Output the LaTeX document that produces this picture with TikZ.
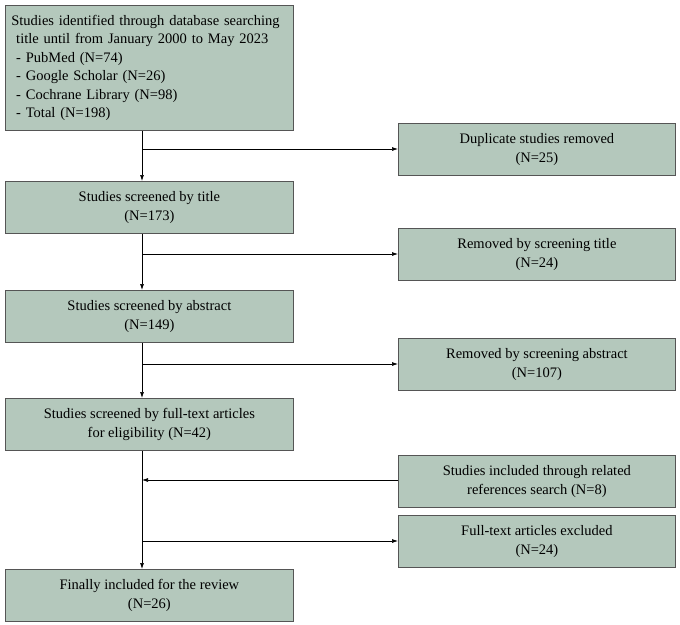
\documentclass[tikz,border=0pt]{standalone}
\usepackage{fontspec}
\setmainfont{Liberation Serif}
\usetikzlibrary{arrows.meta}
\definecolor{boxfill}{HTML}{B4C8BC}
\definecolor{boxline}{HTML}{555555}
\begin{document}
\begin{tikzpicture}[x=1pt,y=-1pt,font=\fontsize{14.5}{18.5}\selectfont,
  box/.style={draw=boxline,fill=boxfill,line width=0.8pt,align=center,anchor=north west,inner sep=2pt},
  arr/.style={-{Latex[length=6pt,width=4pt]},line width=0.7pt},
  ln/.style={line width=0.7pt}]
\useasboundingbox (0,0) rectangle (680,624);
\node[box,align=left,text width=276pt,inner xsep=6pt,minimum height=125pt] (a) at (5,5) {Studies identified through database searching\\ \ title until from January 2000 to May 2023\\ \ - PubMed (N=74)\\ \ - Google Scholar (N=26)\\ \ - Cochrane Library (N=98)\\ \ - Total (N=198)};
\node[box,minimum width=288pt,minimum height=52pt] (b) at (5,181) {Studies screened by title\\(N=173)};
\node[box,minimum width=288pt,minimum height=52pt] (c) at (5,290) {Studies screened by abstract\\(N=149)};
\node[box,minimum width=288pt,minimum height=52pt] (d) at (5,398) {Studies screened by full-text articles\\for eligibility (N=42)};
\node[box,minimum width=288pt,minimum height=52pt] (e) at (5,569) {Finally included for the review\\(N=26)};
\node[box,minimum width=277pt,minimum height=52pt] (r1) at (398,123) {Duplicate studies removed\\(N=25)};
\node[box,minimum width=277pt,minimum height=52pt] (r2) at (398,228) {Removed by screening title\\(N=24)};
\node[box,minimum width=277pt,minimum height=52pt] (r3) at (398,338) {Removed by screening abstract\\(N=107)};
\node[box,minimum width=277pt,minimum height=52pt] (r4) at (398,455) {Studies included through related\\references search (N=8)};
\node[box,minimum width=277pt,minimum height=52pt] (r5) at (398,515) {Full-text articles excluded\\(N=24)};
\coordinate (p1) at (142,149);
\coordinate (p2) at (142,254);
\coordinate (p3) at (142,364);
\coordinate (p4) at (142,480);
\coordinate (p5) at (142,541);
\draw[arr] (a.south -| p1) -- (b.north -| p1);
\draw[arr] (b.south -| p1) -- (c.north -| p1);
\draw[arr] (c.south -| p1) -- (d.north -| p1);
\draw[arr] (d.south -| p1) -- (e.north -| p1);
\draw[arr] (p1) -- (p1 -| r1.west);
\draw[arr] (p2) -- (p2 -| r2.west);
\draw[arr] (p3) -- (p3 -| r3.west);
\draw[arr] (p4 -| r4.west) -- (p4);
\draw[arr] (p5) -- (p5 -| r5.west);
\end{tikzpicture}
\end{document}
